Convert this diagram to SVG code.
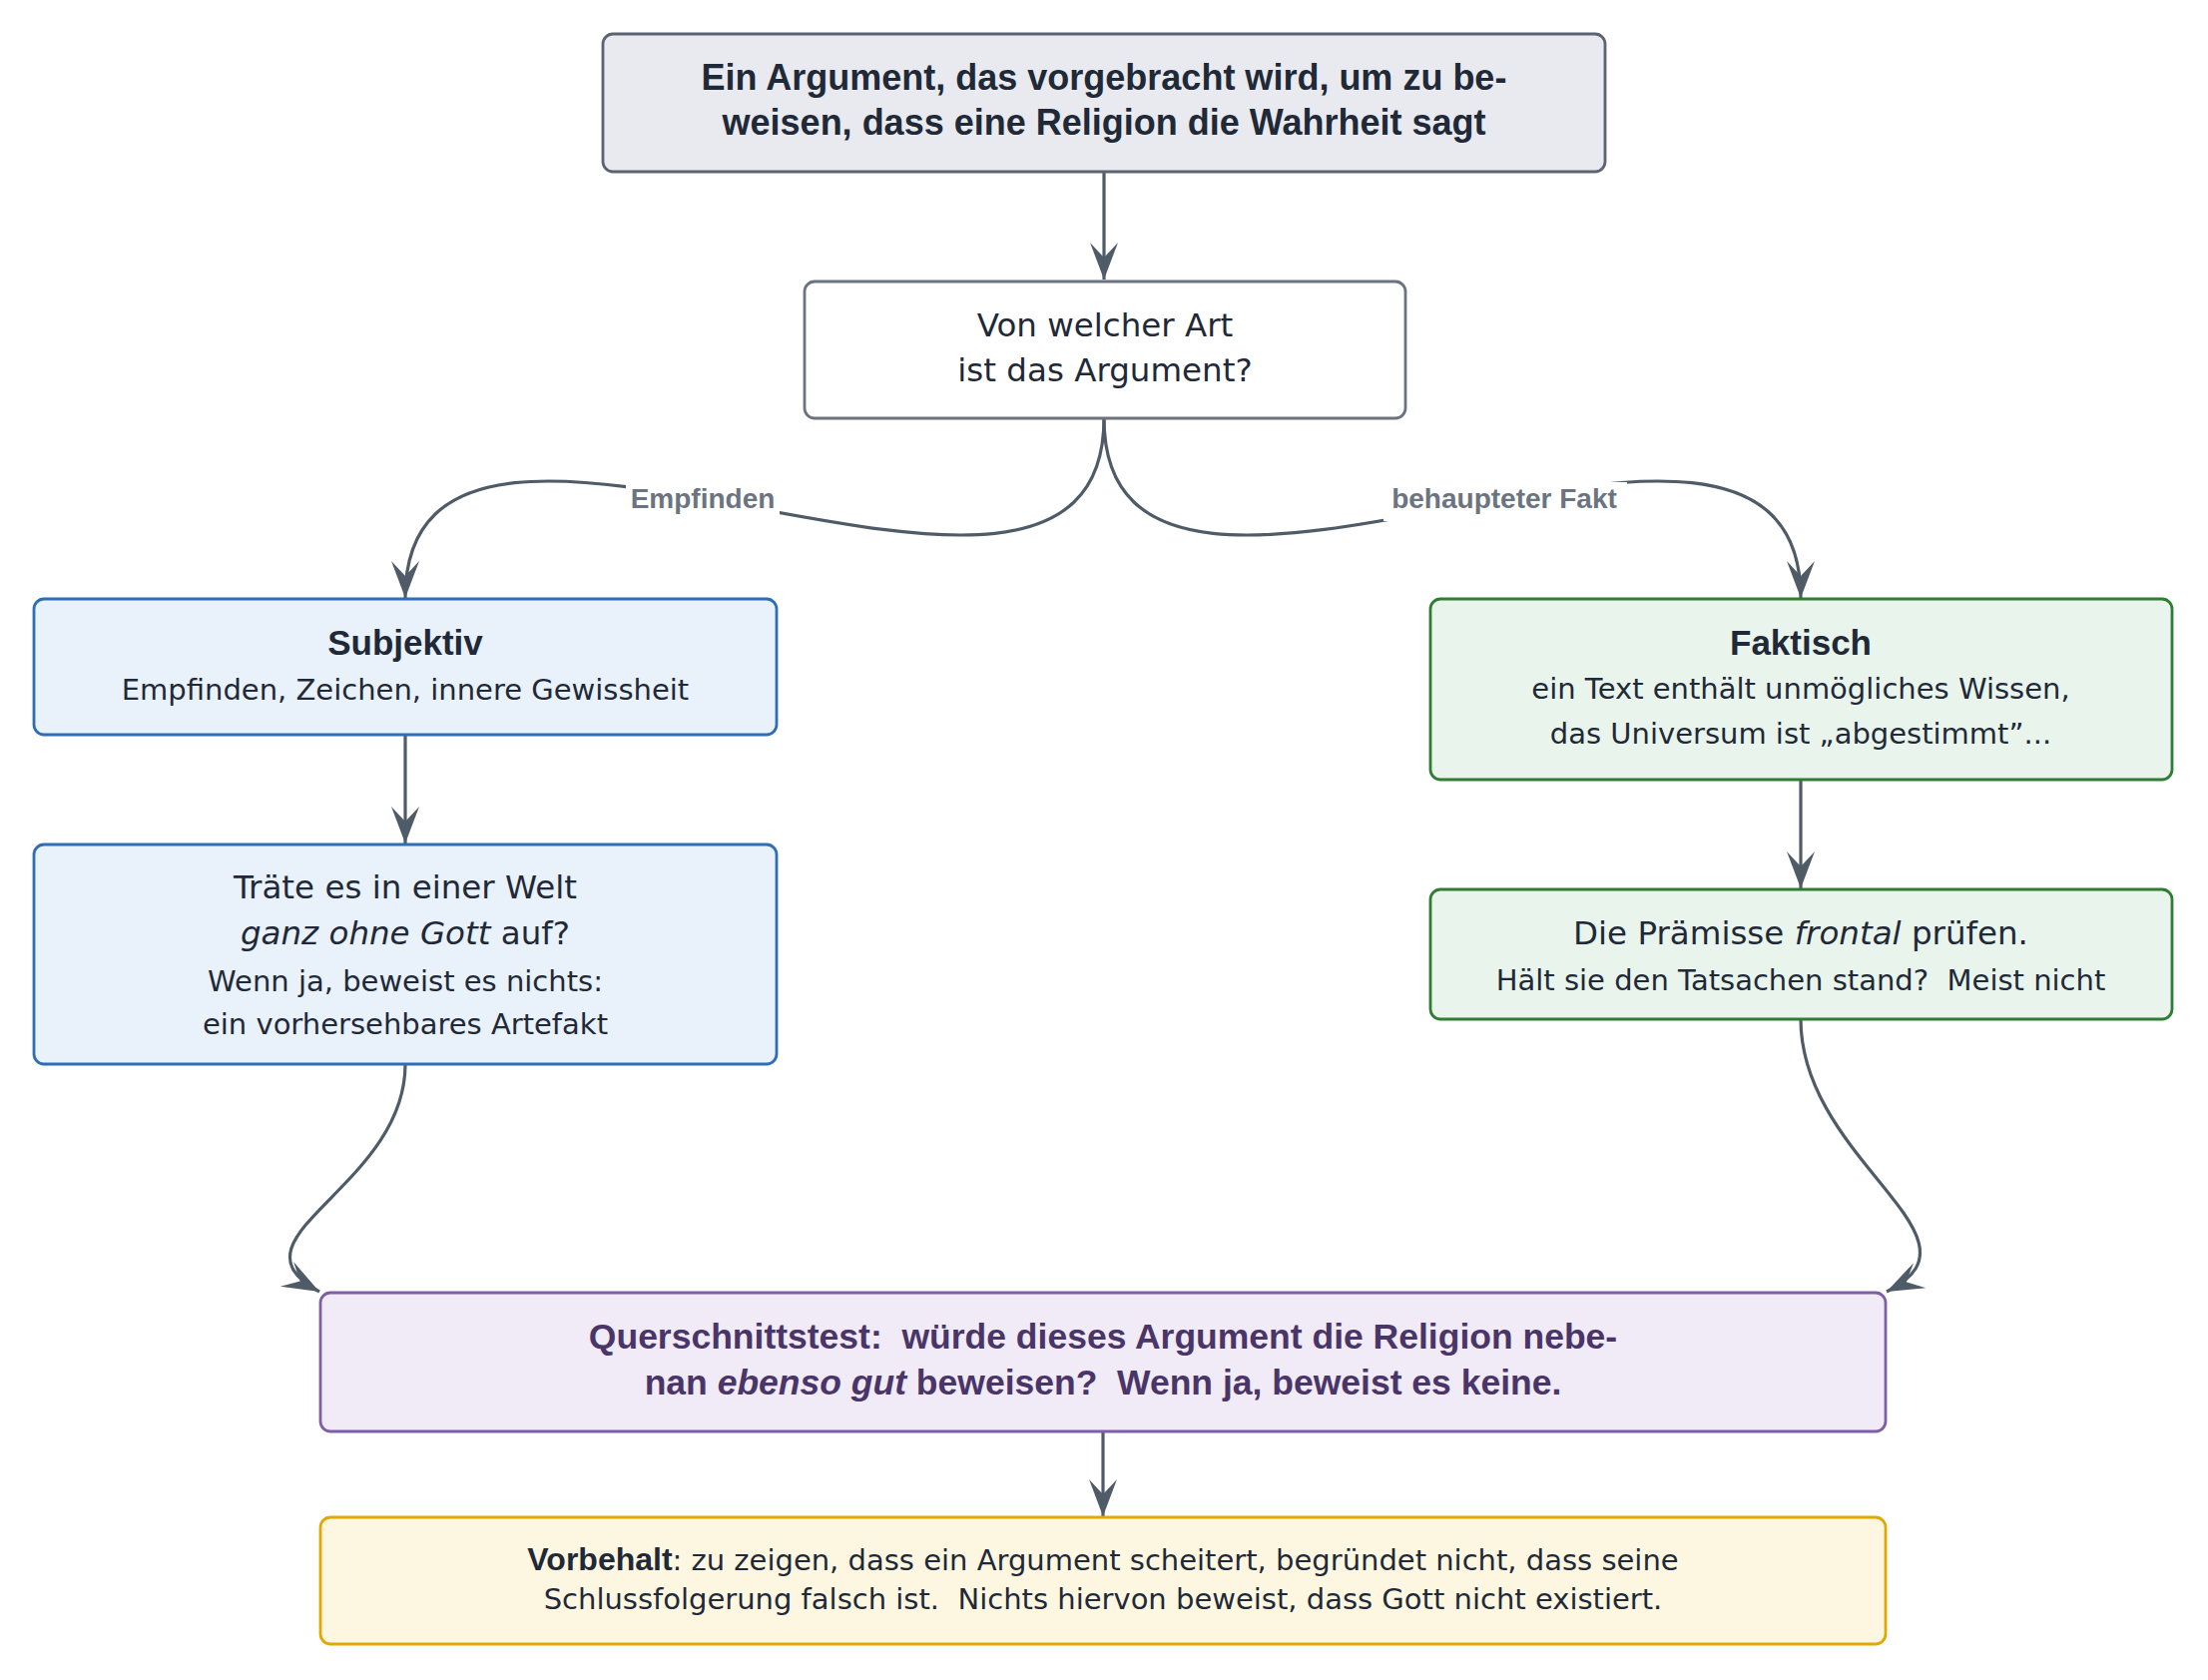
<svg xmlns="http://www.w3.org/2000/svg" width="2212" height="1683" viewBox="0 0 2212 1683">
<style>
.box{stroke-width:2.8}
.neutral{fill:#e8eaf0;stroke:#5b6472}
.plain{fill:#ffffff;stroke:#6b7280}
.blue{fill:#e9f1fb;stroke:#2f6db5}
.green{fill:#e9f5ec;stroke:#2e7d32}
.purple{fill:#f1ebf7;stroke:#7e5fa6}
.yellow{fill:#fdf7e1;stroke:#e0a800}
.t{font-family:'DejaVu Sans',sans-serif;fill:#1f2937;text-anchor:middle;white-space:pre}
.m{font-size:32.5px}
.s{font-size:29px}
.b{font-family:'Liberation Sans',Arial,sans-serif;font-weight:bold;fill:#1f2937;text-anchor:middle;white-space:pre}
.it{font-style:italic}
.q{fill:#4a3568}
.lbl{font-family:'Liberation Sans',Arial,sans-serif;font-weight:bold;font-size:28px;fill:#6b7480;text-anchor:middle}
.edge{fill:none;stroke:#4f5b67;stroke-width:3.2}
</style>
<defs>
<marker id="arr" markerUnits="userSpaceOnUse" markerWidth="40" markerHeight="30" refX="37" refY="15" orient="auto" overflow="visible">
<path d="M0,1 L37,15 L0,29 L15,15 Z" fill="#4f5b67"/>
</marker>
</defs>

<g id="edges">
<path class="edge" d="M1106,172 L1106,280" marker-end="url(#arr)"/>
<path class="edge" d="M1106,419 C1106,729 406,289 406,599" marker-end="url(#arr)"/>
<path class="edge" d="M1106,419 C1106,729 1804,289 1804,599" marker-end="url(#arr)"/>
<path class="edge" d="M406,736 L406,845" marker-end="url(#arr)"/>
<path class="edge" d="M1804,781 L1804,890" marker-end="url(#arr)"/>
<path class="edge" d="M406,1066 C406,1190 220,1240 320,1294" marker-end="url(#arr)"/>
<path class="edge" d="M1804,1021 C1804,1163 2000,1240 1890,1294" marker-end="url(#arr)"/>
<path class="edge" d="M1105,1434 L1105,1519" marker-end="url(#arr)"/>
<rect x="627" y="483" width="154" height="39" fill="#ffffff"/>
<text class="lbl" x="704" y="509">Empfinden</text>
<rect x="1386" y="483" width="244" height="39" fill="#ffffff"/>
<text class="lbl" x="1507" y="509">behaupteter Fakt</text>
</g>

<g id="n-argument">
<rect class="box neutral" x="604" y="34" width="1004" height="138" rx="10"/>
<text class="b" font-size="36" x="1106" y="90">Ein Argument, das vorgebracht wird, um zu be-</text>
<text class="b" font-size="36" x="1106" y="135">weisen, dass eine Religion die Wahrheit sagt</text>
</g>

<g id="n-art">
<rect class="box plain" x="806" y="282" width="602" height="137" rx="10"/>
<text class="t m" x="1107" y="337">Von welcher Art</text>
<text class="t m" x="1107" y="382">ist das Argument?</text>
</g>

<g id="n-subjektiv">
<rect class="box blue" x="34" y="600" width="744" height="136" rx="10"/>
<text class="b" font-size="35" x="406" y="656">Subjektiv</text>
<text class="t s" x="406" y="701">Empfinden, Zeichen, innere Gewissheit</text>
</g>

<g id="n-welt">
<rect class="box blue" x="34" y="846" width="744" height="220" rx="10"/>
<text class="t m" x="406" y="900">Träte es in einer Welt</text>
<text class="t m" x="406" y="946"><tspan class="it">ganz ohne Gott</tspan> auf?</text>
<text class="t s" x="406" y="993">Wenn ja, beweist es nichts:</text>
<text class="t s" x="406" y="1036">ein vorhersehbares Artefakt</text>
</g>

<g id="n-faktisch">
<rect class="box green" x="1433" y="600" width="743" height="181" rx="10"/>
<text class="b" font-size="35" x="1804" y="656">Faktisch</text>
<text class="t s" x="1804" y="700">ein Text enthält unmögliches Wissen,</text>
<text class="t s" x="1804" y="745">das Universum ist „abgestimmt”...</text>
</g>

<g id="n-praemisse">
<rect class="box green" x="1433" y="891" width="743" height="130" rx="10"/>
<text class="t m" x="1804" y="946">Die Prämisse <tspan class="it">frontal</tspan> prüfen.</text>
<text class="t s" x="1804" y="992">Hält sie den Tatsachen stand?  Meist nicht</text>
</g>

<g id="n-quer">
<rect class="box purple" x="321" y="1295" width="1568" height="139" rx="10"/>
<text class="b q" font-size="35.5" x="1105" y="1351">Querschnittstest:  würde dieses Argument die Religion nebe-</text>
<text class="b q" font-size="35.5" x="1105" y="1397">nan <tspan class="it">ebenso gut</tspan> beweisen?  Wenn ja, beweist es keine.</text>
</g>

<g id="n-vorbehalt">
<rect class="box yellow" x="321" y="1520" width="1568" height="127" rx="10"/>
<text class="t s" x="1105" y="1573"><tspan font-family="'Liberation Sans',Arial,sans-serif" font-weight="bold" font-size="32">Vorbehalt</tspan>: zu zeigen, dass ein Argument scheitert, begründet nicht, dass seine</text>
<text class="t s" x="1105" y="1612">Schlussfolgerung falsch ist.  Nichts hiervon beweist, dass Gott nicht existiert.</text>
</g>
</svg>
